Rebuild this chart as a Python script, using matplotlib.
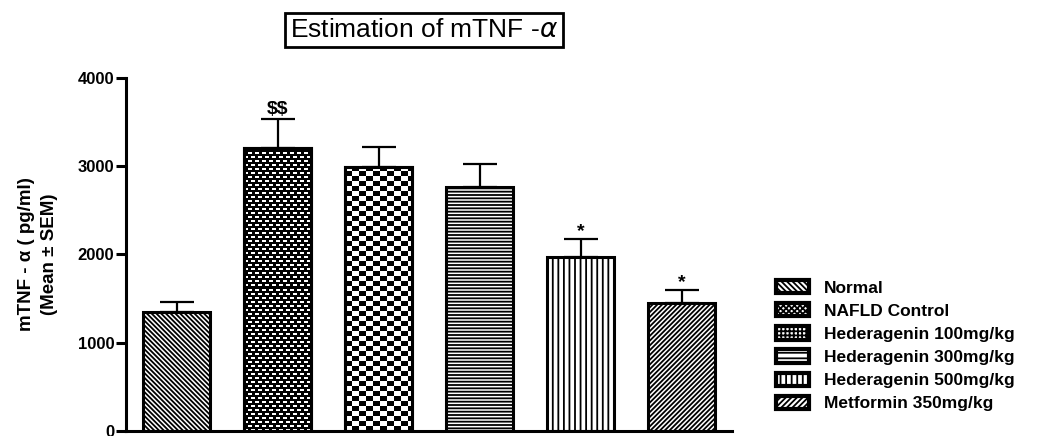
import matplotlib.pyplot as plt
import numpy as np
from matplotlib.patches import Patch

# Datos
groups = ['Normal', 'NAFLD Control', 'Hederagenin 100mg/kg',
          'Hederagenin 300mg/kg', 'Hederagenin 500mg/kg', 'Metformin 350mg/kg']
means = [1348, 3207, 2991, 2765, 1972, 1450]
sems = [114, 328, 227, 260, 204, 148]
marks = ['', '$$', '', '', '*', '*']

plt.rcParams['font.family'] = ['Liberation Sans', 'DejaVu Sans']
plt.rcParams['hatch.linewidth'] = 1.3

fig = plt.figure(figsize=(10.52, 4.36), dpi=100)
ax = fig.add_axes([126 / 1052, 5 / 436, 606 / 1052, 353 / 436])

x = np.arange(len(groups))
width = 0.67
hatches = ['\\' * 7, '', '', '-----', '|||', '/' * 7]
bars = ax.bar(x, means, width, color='white', edgecolor='black',
              linewidth=2.2, hatch=hatches, zorder=2)

# texturas tipo tablero para los grupos 2 y 3 (no existen como hatch)
px_x = 606 / 6.0      # pixeles por unidad x
px_y = 353 / 4000.0   # pixeles por unidad y


def texture(bar, kind):
    x0 = bar.get_x()
    w = bar.get_width()
    h = bar.get_height()
    nx = int(round(w * px_x))
    ny = int(round(h * px_y))
    i, j = np.mgrid[0:ny, 0:nx]
    if kind == 'fine':
        row = i // 4
        white = ((i % 4) < 2) & (((j + (row % 2) * 3) % 7) < 4)
    else:
        white = ((i // 5) + (j // 7)) % 2 == 0
    img = white.astype(float)
    im = ax.imshow(img, extent=(x0, x0 + w, 0, h), origin='lower',
                   cmap='gray', vmin=0, vmax=1, aspect='auto',
                   interpolation='nearest', zorder=2.5)
    im.set_clip_path(bar)
    ax.add_patch(plt.Rectangle((x0, 0), w, h, fill=False, edgecolor='black',
                               linewidth=2.2, zorder=3))


texture(bars[1], 'fine')
texture(bars[2], 'checker')

ax.errorbar(x, means, yerr=[np.zeros(len(sems)), sems], fmt='none',
            ecolor='black', elinewidth=1.6, capsize=12, capthick=1.6, zorder=1)

for xi, m, s, t in zip(x, means, sems, marks):
    if t:
        off = 10 if t == '$$' else -15
        ax.text(xi, m + s + off, t, ha='center', va='bottom',
                fontsize=14, fontweight='bold', parse_math=False)

ax.set_xlim(-0.5, 5.5)
ax.set_ylim(0, 4000)
ax.set_yticks([0, 1000, 2000, 3000, 4000])
ax.set_xticks([])
for side in ['top', 'right']:
    ax.spines[side].set_visible(False)
for side in ['left', 'bottom']:
    ax.spines[side].set_linewidth(2.2)
ax.tick_params(axis='y', direction='out', length=7, width=2.2,
               labelsize=12, pad=1.5)
for lab in ax.get_yticklabels():
    lab.set_fontweight('bold')

ax.set_ylabel('mTNF - α ( pg/ml)\n(Mean ± SEM)', fontsize=13.5,
              fontweight='bold', linespacing=1.45)
ax.yaxis.set_label_coords((58 - 126) / 606, 0.5)

fig.text(424 / 1052, 1 - 30 / 436, 'Estimation of mTNF -$\\alpha$',
         ha='center', va='center', fontsize=19,
         bbox=dict(boxstyle='square,pad=0.2', facecolor='white',
                   edgecolor='black', linewidth=2))

# leyenda
leg_hatch = ['\\' * 6, 'xxxxxx', '++++', '---', '|||', '/' * 6]
handles = [Patch(facecolor='white', edgecolor='black', linewidth=3,
                 hatch=h, label=g) for h, g in zip(leg_hatch, groups)]
fig.legend(handles=handles, loc='upper left',
           bbox_to_anchor=(776 / 1052, 1 - 280 / 436),
           frameon=False, borderpad=0, borderaxespad=0,
           prop={'weight': 'bold', 'size': 12.5},
           handlelength=1.9, handleheight=0.8, handletextpad=0.85,
           labelspacing=0.43)

plt.savefig('out.png', dpi=100)
